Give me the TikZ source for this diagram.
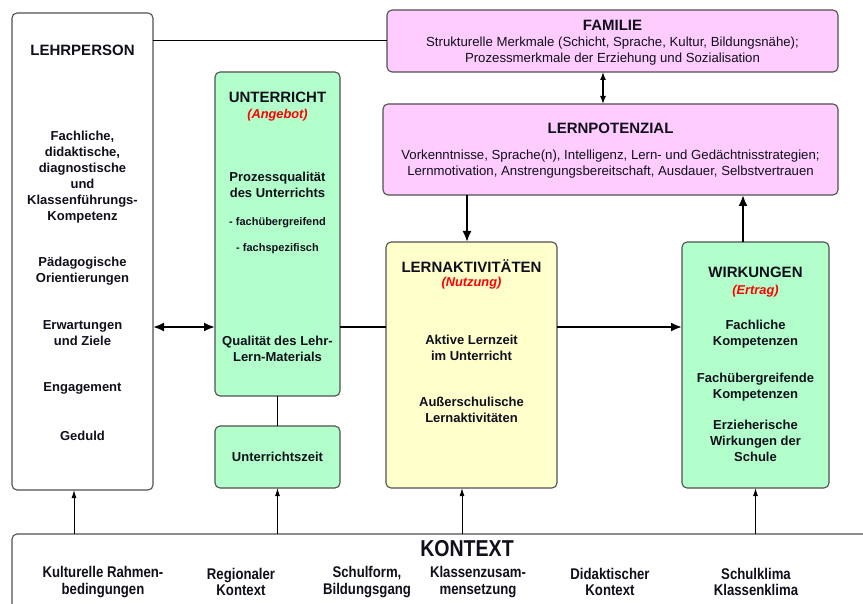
\documentclass[tikz,border=0pt]{standalone}
\usepackage{fontspec}
\setmainfont{Liberation Sans}
\newfontfamily\narrowfont{Liberation Sans}[FakeStretch=0.85]
\usetikzlibrary{arrows.meta}
\definecolor{pinkbox}{HTML}{FFCCFF}
\definecolor{greenbox}{HTML}{B3FFCC}
\definecolor{yellowbox}{HTML}{FFFFCC}
\definecolor{boxline}{HTML}{505050}
\definecolor{ink}{HTML}{10101C}
\tikzset{
  box/.style={draw=boxline, line width=1.1pt, rounded corners=5pt, inner sep=0pt, outer sep=0pt},
  lbl/.style={inner sep=0pt, align=center, text=ink},
  ttl/.style={lbl, font=\fontsize{15}{17}\selectfont\bfseries},
  bdy/.style={lbl, font=\fontsize{13}{16}\selectfont\bfseries},
  sml/.style={lbl, font=\fontsize{11}{13}\selectfont\bfseries},
  red/.style={lbl, text=red, font=\fontsize{12.8}{14}\selectfont\bfseries\itshape},
  reg/.style={lbl, font=\fontsize{13.2}{15.5}\selectfont},
  ctx/.style={lbl, font=\narrowfont\fontsize{15.5}{16.5}\selectfont\bfseries},
  heavy/.style={line width=2pt, >={Latex[length=11pt,width=9pt]}},
  medium/.style={line width=1.4pt, >={Latex[length=8pt,width=6pt]}},
  light/.style={line width=1pt, >={Latex[length=8pt,width=5pt]}},
}
\begin{document}
\begin{tikzpicture}[x=1pt,y=-1pt]
\clip (0,0) rectangle (863,604);
\fill[white] (0,0) rectangle (863,604);
% boxes
\node[box, fill=white, minimum width=141pt, minimum height=477pt] (lehr) at (82.5,251.5) {};
\node[box, fill=pinkbox, minimum width=451pt, minimum height=62pt] (fam) at (612.5,41) {};
\node[box, fill=pinkbox, minimum width=455pt, minimum height=91pt] (pot) at (610.5,149.5) {};
\node[box, fill=greenbox, minimum width=125pt, minimum height=324pt] (unt) at (277.5,234) {};
\node[box, fill=greenbox, minimum width=125pt, minimum height=62pt] (zeit) at (277.5,457) {};
\node[box, fill=yellowbox, minimum width=171pt, minimum height=246pt] (akt) at (471.5,365) {};
\node[box, fill=greenbox, minimum width=147pt, minimum height=246pt] (wirk) at (755.5,365) {};
\node[box, fill=white, minimum width=868pt, minimum height=116pt] (kon) at (446,592) {};
% helper coordinates
\coordinate (r327) at (0,327);
\coordinate (c603) at (603,0);
\coordinate (c467) at (467,0);
\coordinate (c743) at (743,0);
\coordinate (c74) at (74,0);
\coordinate (c462) at (462,0);
% LEHRPERSON texts
\node[ttl] (lehrT) at (82.5,50) {LEHRPERSON};
\node[bdy] (lehr1) at (82.5,177) {Fachliche,\\didaktische,\\diagnostische\\und\\Klassenführungs-\\Kompetenz};
\node[bdy] (lehr2) at (82.5,271) {Pädagogische\\Orientierungen};
\node[bdy] (lehr3) at (82.5,333) {Erwartungen\\und Ziele};
\node[bdy] (lehr4) at (82.5,388) {Engagement};
\node[bdy] (lehr5) at (82.5,436) {Geduld};
% UNTERRICHT texts
\node[ttl] (untT) at (277.5,97) {UNTERRICHT};
\node[red] (untR) at (277.5,115) {(Angebot)};
\node[bdy] (unt1) at (277.5,185) {Prozessqualität\\des Unterrichts};
\node[sml] (unt2) at (277.5,223) {- fachübergreifend};
\node[sml] (unt3) at (277.5,249) {- fachspezifisch};
\node[bdy] (unt4) at (277.5,349) {Qualität des Lehr-\\Lern-Materials};
\node[bdy] (zeitT) at (277.5,457) {Unterrichtszeit};
% FAMILIE texts
\node[ttl] (famT) at (612.5,25) {FAMILIE};
\node[reg] (fam1) at (612.5,51) {Strukturelle Merkmale (Schicht, Sprache, Kultur, Bildungsnähe);\\Prozessmerkmale der Erziehung und Sozialisation};
% LERNPOTENZIAL texts
\node[ttl] (potT) at (610.5,128) {LERNPOTENZIAL};
\node[reg, font=\fontsize{13.2}{16.5}\selectfont] (pot1) at (610.5,164) {Vorkenntnisse, Sprache(n), Intelligenz, Lern- und Gedächtnisstrategien;\\Lernmotivation, Anstrengungsbereitschaft, Ausdauer, Selbstvertrauen};
% LERNAKTIVITÄTEN texts
\node[ttl] (aktT) at (471.5,266) {LERNAKTIVITÄTEN};
\node[red] (aktR) at (471.5,283) {(Nutzung)};
\node[bdy] (akt1) at (471.5,348) {Aktive Lernzeit\\im Unterricht};
\node[bdy] (akt2) at (471.5,410) {Außerschulische\\Lernaktivitäten};
% WIRKUNGEN texts
\node[ttl] (wirkT) at (755.5,272) {WIRKUNGEN};
\node[red] (wirkR) at (755.5,291) {(Ertrag)};
\node[bdy] (wirk1) at (755.5,334) {Fachliche\\Kompetenzen};
\node[bdy] (wirk2) at (755.5,387) {Fachübergreifende\\Kompetenzen};
\node[bdy] (wirk3) at (755.5,441) {Erzieherische\\Wirkungen der\\Schule};
% KONTEXT texts
\node[lbl, font=\narrowfont\fontsize{23}{25}\selectfont\bfseries] (konT) at (467,549) {KONTEXT};
\node[ctx] (k1) at (103,582) {Kulturelle Rahmen-\\bedingungen};
\node[ctx] (k2) at (241,582) {Regionaler\\Kontext};
\node[ctx] (k3) at (367,582) {Schulform,\\Bildungsgang};
\node[ctx] (k4) at (478,582) {Klassenzusam-\\mensetzung};
\node[ctx] (k5) at (610,582) {Didaktischer\\Kontext};
\node[ctx] (k6) at (756,582) {Schulklima\\Klassenklima};
% connectors
\draw[light] (fam.west -| lehr.east) -- (fam.west);
\draw[heavy, <->] (lehr.east |- r327) -- (unt.west |- r327);
\draw[heavy] (unt.east |- r327) -- (akt.west |- r327);
\draw[heavy, ->] (akt.east |- r327) -- (wirk.west |- r327);
\draw[medium, <->] (fam.south -| c603) -- (pot.north -| c603);
\draw[heavy, ->] (pot.south -| c467) -- (akt.north -| c467);
\draw[heavy, ->] (wirk.north -| c743) -- (pot.south -| c743);
\draw[light] (unt.south) -- (zeit.north);
\draw[light, ->] (kon.north -| c74) -- (lehr.south -| c74);
\draw[light, ->] (kon.north -| zeit.south) -- (zeit.south);
\draw[light, ->] (kon.north -| c462) -- (akt.south -| c462);
\draw[light, ->] (kon.north -| wirk.south) -- (wirk.south);
\end{tikzpicture}
\end{document}
